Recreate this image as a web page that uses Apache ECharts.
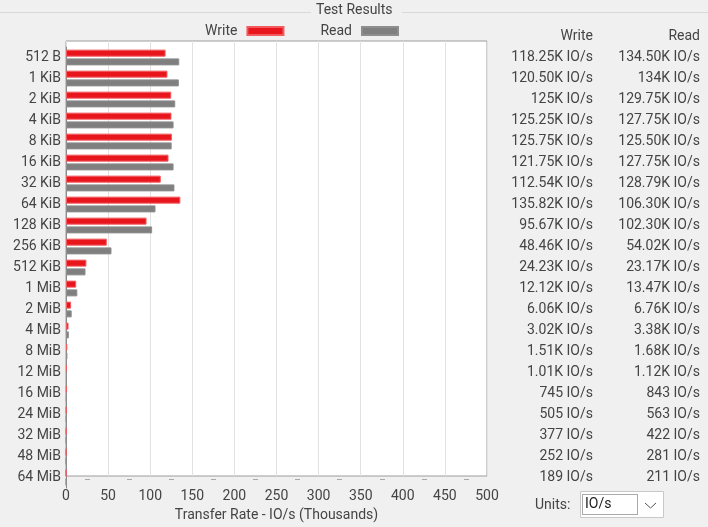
<!DOCTYPE html>
<html>
<head>
<meta charset="utf-8">
<script src="https://cdn.jsdelivr.net/npm/echarts@6/dist/echarts.min.js"></script>
<style>
  html, body { margin: 0; padding: 0; background: #f0f0f0; }
  #chart { width: 708px; height: 527px; }
</style>
</head>
<body>
<div id="chart"></div>
<script>
var sizes = ["512 B", "1 KiB", "2 KiB", "4 KiB", "8 KiB", "16 KiB", "32 KiB", "64 KiB",
  "128 KiB", "256 KiB", "512 KiB", "1 MiB", "2 MiB", "4 MiB", "8 MiB", "12 MiB",
  "16 MiB", "24 MiB", "32 MiB", "48 MiB", "64 MiB"];

// IO/s in thousands
var writeK = [118.25, 120.5, 125, 125.25, 125.75, 121.75, 112.54, 135.82, 95.67, 48.46,
  24.23, 12.12, 6.06, 3.02, 1.51, 1.01, 0.745, 0.505, 0.377, 0.252, 0.189];
var readK = [134.5, 134, 129.75, 127.75, 125.5, 127.75, 128.79, 106.3, 102.3, 54.02,
  23.17, 13.47, 6.76, 3.38, 1.68, 1.12, 0.843, 0.563, 0.422, 0.281, 0.211];

var writeLabels = ["118.25K IO/s", "120.50K IO/s", "125K IO/s", "125.25K IO/s", "125.75K IO/s",
  "121.75K IO/s", "112.54K IO/s", "135.82K IO/s", "95.67K IO/s", "48.46K IO/s", "24.23K IO/s",
  "12.12K IO/s", "6.06K IO/s", "3.02K IO/s", "1.51K IO/s", "1.01K IO/s", "745 IO/s",
  "505 IO/s", "377 IO/s", "252 IO/s", "189 IO/s"];
var readLabels = ["134.50K IO/s", "134K IO/s", "129.75K IO/s", "127.75K IO/s", "125.50K IO/s",
  "127.75K IO/s", "128.79K IO/s", "106.30K IO/s", "102.30K IO/s", "54.02K IO/s", "23.17K IO/s",
  "13.47K IO/s", "6.76K IO/s", "3.38K IO/s", "1.68K IO/s", "1.12K IO/s", "843 IO/s",
  "563 IO/s", "422 IO/s", "281 IO/s", "211 IO/s"];

var xMax = 500;
var xStep = 50;

var font = "Roboto, 'Liberation Sans', sans-serif";
var textColor = "#444";

var myChart = echarts.init(document.getElementById("chart"));

function tableAxis(labels, margin) {
  return {
    type: "category",
    gridIndex: 1,
    data: labels,
    inverse: true,
    position: "right",
    axisLine: { show: false },
    axisTick: { show: false },
    axisLabel: {
      margin: margin,
      align: "right",
      color: textColor,
      fontSize: 14,
      fontFamily: font
    }
  };
}

var option = {
  backgroundColor: "#f0f0f0",
  textStyle: { fontFamily: font },
  animation: false,
  legend: {
    left: 200,
    top: 19,
    align: "right",
    itemWidth: 36,
    itemHeight: 8,
    itemGap: 36,
    icon: "rect",
    textStyle: { color: textColor, fontSize: 14, fontFamily: font, padding: [0, 5, 0, 0] },
    data: ["Write", "Read"]
  },
  // grid 0: the white plot box, grid lines and x labels; grid 1: the bars
  grid: [
    {
      left: 66,
      top: 41,
      width: 421,
      height: 447,
      show: true,
      backgroundColor: "#fff",
      borderColor: "#9c9c9c",
      borderWidth: 1
    },
    {
      left: 66,
      top: 47,
      width: 421,
      height: 441
    }
  ],
  xAxis: [
    {
      type: "value",
      gridIndex: 0,
      min: 0,
      max: xMax,
      interval: xStep,
      axisLine: { show: false },
      axisTick: { show: false },
      splitLine: { lineStyle: { color: "#e2e2e2" } },
      axisLabel: { color: textColor, fontSize: 14, fontFamily: font, margin: 13 },
      name: "Transfer Rate - IO/s (Thousands)",
      nameLocation: "middle",
      nameGap: 32,
      nameTextStyle: { color: textColor, fontSize: 14, fontFamily: font }
    },
    {
      type: "value",
      gridIndex: 0,
      position: "bottom",
      offset: 3,
      min: 0,
      max: xMax,
      interval: xStep,
      axisLine: { show: false },
      axisTick: { show: false },
      axisLabel: { show: false },
      splitLine: { show: false },
      minorTick: { show: true, splitNumber: 2, length: 1, lineStyle: { color: "#a8a8a8", width: 5 } }
    },
    {
      type: "value",
      gridIndex: 1,
      min: 0,
      max: xMax,
      interval: xStep,
      axisLine: { show: false },
      axisTick: { show: false },
      axisLabel: { show: false },
      splitLine: { show: false }
    }
  ],
  yAxis: [
    {
      type: "category",
      gridIndex: 1,
      data: sizes,
      inverse: true,
      axisLine: { show: true, lineStyle: { color: "#8a8a8a" } },
      axisTick: { show: false },
      axisLabel: { color: textColor, fontSize: 14, fontFamily: font, margin: 5 }
    },
    tableAxis(writeLabels, 106),
    tableAxis(readLabels, 213),
    {
      type: "value",
      gridIndex: 0,
      show: false
    }
  ],
  series: [
    {
      name: "Write",
      type: "bar",
      xAxisIndex: 2,
      yAxisIndex: 0,
      data: writeK,
      barWidth: 7,
      barGap: "25%",
      itemStyle: { color: "#e8161c", borderColor: "#f25a5e", borderWidth: 1 }
    },
    {
      name: "Read",
      type: "bar",
      xAxisIndex: 2,
      yAxisIndex: 0,
      data: readK,
      barWidth: 7,
      itemStyle: { color: "#7f7f7f", borderColor: "#8e8e8e", borderWidth: 1 }
    }
  ],
  graphic: [
    { type: "line", shape: { x1: 0, y1: 12.5, x2: 311, y2: 12.5 }, style: { stroke: "#d9d9d9", lineWidth: 1 } },
    { type: "line", shape: { x1: 402, y1: 12.5, x2: 708, y2: 12.5 }, style: { stroke: "#d9d9d9", lineWidth: 1 } },
    { type: "text", left: 316, top: 3, style: { text: "Test Results", fill: textColor, font: "14px " + font } },
    { type: "text", right: 115, top: 29, style: { text: "Write", fill: textColor, font: "14px " + font } },
    { type: "text", right: 8, top: 29, style: { text: "Read", fill: textColor, font: "14px " + font } },
    { type: "text", left: 535, top: 498, style: { text: "Units:", fill: textColor, font: "14px " + font } },
    { type: "rect", shape: { x: 580.5, y: 491.5, width: 83, height: 26 }, style: { fill: "#fff", stroke: "#c8c8c8", lineWidth: 1 } },
    { type: "rect", shape: { x: 582.5, y: 494.5, width: 55, height: 20 }, style: { fill: "none", stroke: "#555", lineWidth: 1, lineDash: [1, 1] } },
    { type: "text", left: 585, top: 497, style: { text: "IO/s", fill: "#222", font: "14px " + font } },
    { type: "polyline", shape: { points: [[645, 503], [650.5, 508], [656, 503]] }, style: { stroke: "#555", lineWidth: 1, fill: "none" } }
  ]
};

option && myChart.setOption(option);
</script>
</body>
</html>
